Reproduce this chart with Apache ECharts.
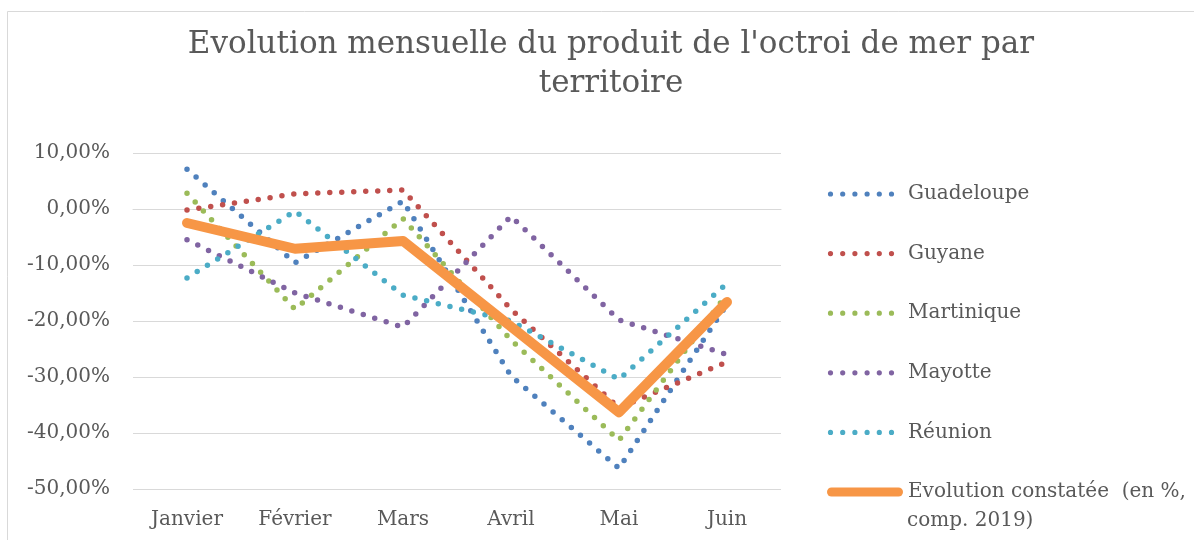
<!DOCTYPE html>
<html>
<head>
<meta charset="utf-8">
<script src="https://cdn.jsdelivr.net/npm/echarts@6/dist/echarts.min.js"></script>
<style>
  html, body { margin: 0; padding: 0; background: #fff; }
  #chart { width: 1194px; height: 540px; }
</style>
</head>
<body>
<div id="chart"></div>
<script>
const months = ["Janvier", "Février", "Mars", "Avril", "Mai", "Juin"];
const guadeloupe = [7.1, -9.6, 1.4, -29.8, -46.3, -17.0];
const guyane = [-0.2, 2.7, 3.4, -17.9, -35.5, -27.3];
const martinique = [2.8, -17.9, -1.7, -23.4, -41.3, -15.2];
const mayotte = [-5.5, -15.0, -21.1, -1.3, -19.8, -26.0];
const reunion = [-12.3, -0.4, -15.4, -20.0, -30.4, -13.3];
const constatee = [-2.5, -7.1, -5.7, -21.0, -36.3, -16.6];

const FONT = "DejaVu Serif";
const TXT = "#595959";
const GRID = "#d9d9d9";

// legend icons: a row of six dots, and a pill for the thick line
let dotsIcon = "path://M0,0 M76,9";
for (let k = 0; k < 6; k++) {
  const cx = 3.5 + k * 12.2;
  dotsIcon += " M" + (cx - 2.6) + ",4.5 a2.6,2.6 0 1,0 5.2,0 a2.6,2.6 0 1,0 -5.2,0 Z";
}
const pillIcon = "path://M4.5,0 L71.5,0 A4.5,4.5 0 0,1 71.5,9 L4.5,9 A4.5,4.5 0 0,1 4.5,0 Z";

const chart = echarts.init(document.getElementById("chart"));

function dotted(name, data, color) {
  return {
    name: name,
    type: "line",
    data: data,
    symbol: "none",
    lineStyle: { color: color, width: 5.5, type: [0, 12], cap: "round" },
    itemStyle: { color: color },
    z: 2
  };
}

const seriesNames = ["Guadeloupe", "Guyane", "Martinique", "Mayotte", "Réunion", "Evolution constatée  (en %, comp. 2019)"];

const option = {
  backgroundColor: "#fff",
  animation: false,
  title: {
    text: "Evolution mensuelle du produit de l'octroi de mer par\nterritoire",
    left: 606,
    top: 20,
    textAlign: "center",
    textStyle: { fontFamily: FONT, fontSize: 31, fontWeight: "normal", color: TXT, lineHeight: 39 }
  },
  grid: { left: 133, right: 413, top: 153, bottom: 51 },
  xAxis: {
    type: "category",
    data: months,
    boundaryGap: true,
    axisLine: { lineStyle: { color: GRID, width: 1 } },
    axisTick: { show: false },
    axisLabel: { fontFamily: FONT, fontSize: 20, color: TXT, margin: 21 }
  },
  yAxis: {
    type: "value",
    min: -50,
    max: 10,
    interval: 10,
    axisLine: { show: false },
    axisTick: { show: false },
    splitLine: { lineStyle: { color: GRID, width: 1 } },
    axisLabel: {
      fontFamily: FONT, fontSize: 20, color: TXT, margin: 23,
      formatter: v => v.toFixed(2).replace(".", ",") + "%"
    }
  },
  legend: {
    orient: "vertical",
    left: 827,
    top: 182,
    padding: 0,
    itemWidth: 76,
    itemHeight: 9,
    itemGap: 35.6,
    formatter: n => n.indexOf("Evolution") === 0 ? "Evolution constatée  (en %," : n,
    textStyle: { fontFamily: FONT, fontSize: 20, color: TXT, lineHeight: 24 },
    data: seriesNames.map((n, i) => ({ name: n, icon: i < 5 ? dotsIcon : pillIcon }))
  },
  graphic: [
    { type: "rect", shape: { x: 7.5, y: 11.5, width: 1400, height: 700 }, style: { fill: "none", stroke: GRID, lineWidth: 1 }, silent: true, z: -10 },
    { type: "text", left: 907, top: 511, style: { text: "comp. 2019)", fontFamily: FONT, fontSize: 20, fill: TXT } }
  ],
  series: [
    dotted(seriesNames[0], guadeloupe, "#4F81BD"),
    dotted(seriesNames[1], guyane, "#C0504D"),
    dotted(seriesNames[2], martinique, "#9BBB59"),
    dotted(seriesNames[3], mayotte, "#8064A2"),
    dotted(seriesNames[4], reunion, "#4BACC6"),
    {
      name: seriesNames[5],
      type: "line",
      data: constatee,
      symbol: "none",
      lineStyle: { color: "#F79646", width: 10, cap: "round", join: "round" },
      itemStyle: { color: "#F79646" },
      z: 3
    }
  ]
};

chart.setOption(option);
</script>
</body>
</html>
